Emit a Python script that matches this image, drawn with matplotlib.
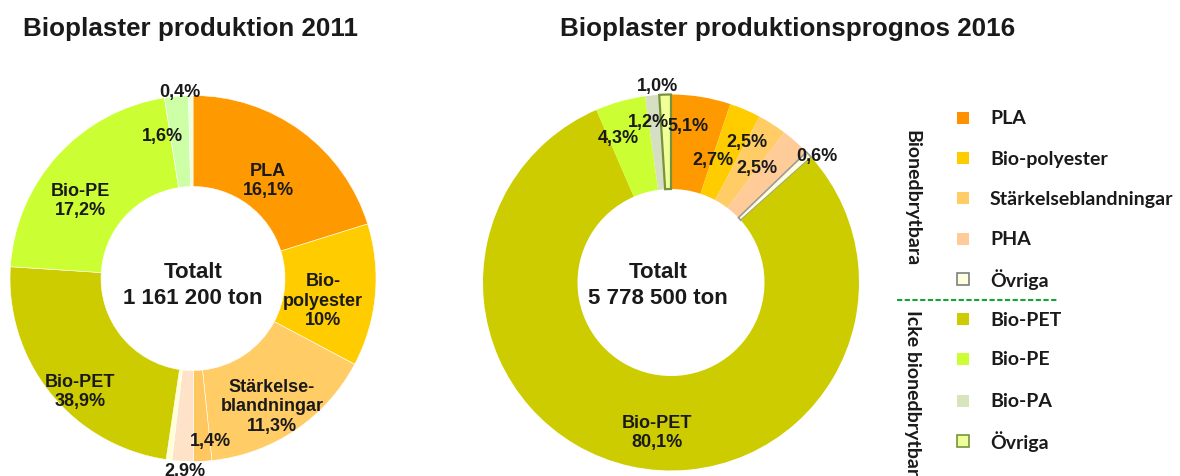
import matplotlib
matplotlib.use("Agg")
import matplotlib.pyplot as plt
from matplotlib.patches import Rectangle

W, H = 1180, 477

# --- data -------------------------------------------------------------
# 2011: slice sizes as drawn in the picture (share of the ring, clockwise from top)
parts_2011 = ["PLA", "Bio-polyester", "Stärkelseblandningar", "Stärkelse (del)",
              "PHA", "Övriga bio", "Bio-PET", "Bio-PE", "Bio-PA", "Övriga"]
slices_2011 = [20.2, 12.6, 15.6, 1.6, 1.9, 0.5, 23.7, 21.5, 2.1, 0.4]
colors_2011 = ["#ff9900", "#ffcc00", "#ffcc66", "#ffc760", "#ffe3c8",
               "#ffffd6", "#cccc00", "#ccff33", "#ccffa6", "#eeffdd"]
labels_2011 = ["PLA\n16,1%", "Bio-\npolyester\n10%", "Stärkelse-\nblandningar\n11,3%",
               "1,4%", "2,9%", "", "Bio-PET\n38,9%", "Bio-PE\n17,2%", "1,6%", "0,4%"]
total_2011 = "1 161 200 ton"

# 2016 forecast, clockwise from top
parts_2016 = ["PLA", "Bio-polyester", "Stärkelseblandningar", "PHA", "Övriga bio",
              "Bio-PET", "Bio-PE", "Bio-PA", "Övriga"]
slices_2016 = [5.1, 2.7, 2.5, 2.5, 0.6, 80.1, 4.3, 1.2, 1.0]
colors_2016 = ["#ff9900", "#ffcc00", "#ffcc66", "#ffcc99", "#ffffdd",
               "#cccc00", "#ccff33", "#d7dfc3", "#f2ff99"]
labels_2016 = ["5,1%", "2,7%", "2,5%", "2,5%", "0,6%",
               "Bio-PET\n80,1%", "4,3%", "1,2%", "1,0%"]
total_2016 = "5 778 500 ton"

legend_names = ["PLA", "Bio-polyester", "Stärkelseblandningar", "PHA", "Övriga",
                "Bio-PET", "Bio-PE", "Bio-PA", "Övriga"]
legend_colors = ["#ff9000", "#ffcc00", "#ffcc66", "#ffcc99", "#ffffe0",
                 "#cccc00", "#ccff33", "#d8e4bc", "#eeff99"]
legend_edges = [None, None, None, None, "#7f7f7f", None, None, None, "#77933c"]

# --- figure -----------------------------------------------------------
fig = plt.figure(figsize=(W / 100, H / 100), dpi=100)
ax = fig.add_axes([0, 0, 1, 1])

def Y(y):
    # picture rows run downwards, axes run upwards
    return H - y

AR = "Liberation Sans"
INK = "#1a1a1a"

# left ring
w1, _ = ax.pie(slices_2011, colors=colors_2011, startangle=90, counterclock=False,
               radius=183, center=(193, Y(279.5)),
               wedgeprops=dict(width=91, linewidth=0.4, edgecolor="white"))

# right ring
w2, _ = ax.pie(slices_2016, colors=colors_2016, startangle=90, counterclock=False,
               radius=188, center=(671, Y(283.5)),
               explode=[0, 0, 0, 0, 0.025, 0, 0, 0, 0],
               wedgeprops=dict(width=94.5, linewidth=0))
w2[4].set_edgecolor("#9a9a9a")
w2[4].set_linewidth(1.2)
w2[8].set_edgecolor("#77933c")
w2[8].set_linewidth(1.6)

ax.set_xlim(0, W)
ax.set_ylim(0, H)
ax.set_aspect("equal")
ax.axis("off")

# titles
ax.text(23, Y(36), "Bioplaster produktion 2011", fontfamily=AR, fontweight="bold",
        fontsize=18.7, color=INK, ha="left", va="baseline")
ax.text(560, Y(36), "Bioplaster produktionsprognos 2016", fontfamily=AR,
        fontweight="bold", fontsize=18.7, color=INK, ha="left", va="baseline")

# slice labels (positions in picture pixels)
pos_2011 = [(268, 181), (323, 301), (272, 407), (210, 442), (185, 472), None,
            (80, 392), (80, 201), (162, 137), (180, 92)]
for txt, p in zip(labels_2011, pos_2011):
    if p is None or not txt:
        continue
    ax.text(p[0], Y(p[1]), txt, fontfamily=AR, fontweight="bold", fontsize=13,
            color=INK, ha="center", va="center", linespacing=1.2)

pos_2016 = [(688, 127), (713, 160), (747, 143), (757, 169), (817, 157),
            (657, 433), (618, 138), (648, 122), (657, 86)]
for txt, p in zip(labels_2016, pos_2016):
    ax.text(p[0], Y(p[1]), txt, fontfamily=AR, fontweight="bold", fontsize=13,
            color=INK, ha="center", va="center", linespacing=1.2)

# totals in the holes
for cx, tot in [(193, total_2011), (658, total_2016)]:
    ax.text(cx, Y(272), "Totalt", fontfamily=AR, fontweight="bold", fontsize=16,
            color=INK, ha="center", va="center")
    ax.text(cx, Y(299), tot, fontfamily=AR, fontweight="bold", fontsize=16,
            color=INK, ha="center", va="center")

# legend
LG = "Lato"
rows_y = [119, 159, 199, 240, 280, 320, 360, 402, 442]
for name, col, edge, yy in zip(legend_names, legend_colors, legend_edges, rows_y):
    ax.add_patch(Rectangle((957, Y(yy) - 5.5), 11.5, 11.5, facecolor=col,
                           edgecolor=edge if edge else col,
                           linewidth=1.2 if edge else 0))
    ax.text(990, Y(yy), name, fontfamily=LG, fontweight="bold", fontsize=14,
            color=INK, ha="left", va="center")

ax.plot([897, 1057], [Y(301), Y(301)], color="#13a538", linewidth=1.5,
        linestyle=(0, (2.5, 1.2)))
ax.text(912, Y(130), "Bionedbrytbara", fontfamily=LG, fontweight="bold",
        fontsize=14, color=INK, rotation=-90, ha="center", va="top")
ax.text(912, Y(310), "Icke bionedbrytbara", fontfamily=LG, fontweight="bold",
        fontsize=14, color=INK, rotation=-90, ha="center", va="top")

fig.savefig("out.png", dpi=100, facecolor="white")
